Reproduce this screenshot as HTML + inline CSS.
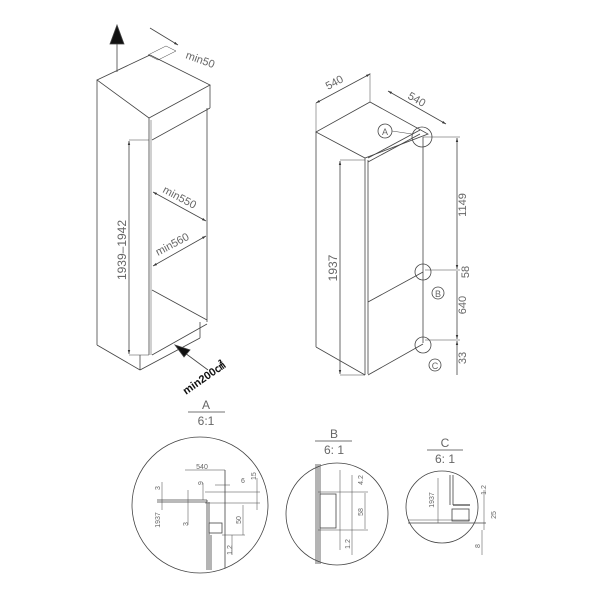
<!DOCTYPE html>
<html><head><meta charset="utf-8"><style>
html,body{margin:0;padding:0;background:#fff;}
svg{display:block}
text{font-family:"Liberation Sans",sans-serif;fill:#666;}
</style></head><body>
<svg width="600" height="600" viewBox="0 0 600 600" xmlns="http://www.w3.org/2000/svg">
<defs>
<marker id="as" viewBox="0 0 10 10" refX="10" refY="5" markerWidth="5" markerHeight="5" orient="auto-start-reverse"><path d="M0,2 L10,5 L0,8 z" fill="#333"/></marker>
</defs>
<g stroke="#444" stroke-width="0.8" fill="none">
<!-- left cabinet -->
<line x1="117" y1="72" x2="117" y2="40"/>
<path d="M110,44 L117,25 L124,44 z" fill="#111"/>
<polygon points="97,80 150,55 210,85 149,118"/>
<polygon points="148,55 166,46 176,51 158,60" stroke-width="0.5"/>
<line x1="210" y1="85" x2="210" y2="108"/>
<line x1="149" y1="118" x2="149" y2="355"/>
<line x1="151" y1="120" x2="151" y2="355" stroke-width="0.5"/>
<line x1="210" y1="108" x2="152" y2="140"/>
<line x1="207" y1="108" x2="207" y2="322"/>
<line x1="152" y1="290" x2="207" y2="320"/>
<line x1="152" y1="355" x2="207" y2="324"/>
<line x1="97" y1="80" x2="97" y2="345"/>
<line x1="97" y1="345" x2="140" y2="370"/>
<line x1="140" y1="355" x2="140" y2="370"/>
<line x1="140" y1="370" x2="200" y2="338"/>
<line x1="200" y1="322" x2="200" y2="338"/>
<line x1="129" y1="140" x2="149" y2="140" stroke-width="0.5"/>
<line x1="129" y1="355" x2="149" y2="355" stroke-width="0.5"/>
<line x1="129" y1="141" x2="129" y2="354" marker-start="url(#as)" marker-end="url(#as)"/>
<line x1="153" y1="192" x2="206" y2="221" marker-start="url(#as)" marker-end="url(#as)"/>
<line x1="153" y1="266" x2="206" y2="236" marker-start="url(#as)" marker-end="url(#as)"/>
<line x1="150" y1="28" x2="178" y2="45" marker-end="url(#as)"/>
<line x1="208" y1="370" x2="185" y2="353"/>
<path d="M175,345 L190,350 L184,357 z" fill="#111"/>
<!-- right fridge -->
<polygon points="316,132 370,102 428,134 365,158"/>
<line x1="316" y1="132" x2="316" y2="347"/>
<line x1="316" y1="347" x2="365" y2="375"/>
<line x1="365" y1="158" x2="365" y2="375"/>
<line x1="368" y1="160" x2="368" y2="374"/>
<line x1="423" y1="137" x2="423" y2="343"/>
<line x1="368" y1="375" x2="423" y2="344"/>
<line x1="368" y1="302" x2="423" y2="272"/>
<line x1="368" y1="158" x2="420" y2="130" stroke-width="0.8"/>
<line x1="368" y1="162" x2="420" y2="134" stroke-width="0.8"/>
<line x1="316" y1="103" x2="316" y2="132" stroke-width="0.5"/>
<line x1="370" y1="73" x2="370" y2="102" stroke-width="0.5"/>
<line x1="316" y1="103" x2="370" y2="74" marker-start="url(#as)" marker-end="url(#as)"/>
<line x1="388" y1="91" x2="446" y2="124" marker-start="url(#as)" marker-end="url(#as)"/>
<line x1="340" y1="160" x2="365" y2="160" stroke-width="0.5"/>
<line x1="340" y1="375" x2="365" y2="375" stroke-width="0.5"/>
<line x1="340" y1="161" x2="340" y2="374" marker-start="url(#as)" marker-end="url(#as)"/>
<line x1="423" y1="137" x2="460" y2="137" stroke-width="0.5"/>
<line x1="425" y1="270" x2="460" y2="270" stroke-width="0.5"/>
<line x1="425" y1="340" x2="460" y2="340" stroke-width="0.5"/>
<line x1="457" y1="138" x2="457" y2="269" marker-start="url(#as)" marker-end="url(#as)"/>
<line x1="457" y1="271" x2="457" y2="339" marker-end="url(#as)"/>
<line x1="457" y1="341" x2="457" y2="375" marker-start="url(#as)"/>
<circle cx="422" cy="137" r="10"/>
<circle cx="385" cy="131" r="7"/>
<line x1="392" y1="131" x2="412" y2="134" stroke-width="0.5"/>
<circle cx="423" cy="272" r="8"/>
<circle cx="438" cy="293" r="6"/>
<circle cx="423" cy="345" r="8"/>
<circle cx="435" cy="365" r="6"/>
<!-- section titles -->
<line x1="188" y1="412" x2="225" y2="412"/>
<line x1="315" y1="441" x2="352" y2="441"/>
<line x1="427" y1="450" x2="463" y2="450"/>
<!-- circle A -->
<circle cx="200" cy="505" r="68"/>
<line x1="157" y1="500" x2="207" y2="500"/>
<line x1="157" y1="502" x2="207" y2="502"/>
<line x1="207" y1="500" x2="207" y2="570"/>
<line x1="209" y1="502" x2="209" y2="570"/>
<line x1="211" y1="535" x2="211" y2="570"/>
<line x1="225" y1="470" x2="225" y2="568"/>
<line x1="185" y1="470" x2="225" y2="470" stroke-width="0.5"/>
<line x1="205" y1="492" x2="260" y2="492" stroke-width="0.5"/>
<line x1="205" y1="503" x2="260" y2="503" stroke-width="0.5"/>
<line x1="222" y1="535" x2="245" y2="535" stroke-width="0.5"/>
<rect x="209" y="523" width="13" height="10"/>
<line x1="162" y1="482" x2="162" y2="510" stroke-width="0.5"/>
<line x1="188" y1="490" x2="188" y2="525" stroke-width="0.5"/>
<line x1="203" y1="483" x2="203" y2="500" stroke-width="0.5"/>
<line x1="257" y1="478" x2="257" y2="510" stroke-width="0.5"/>
<line x1="243" y1="505" x2="243" y2="535" stroke-width="0.5"/>
<line x1="232" y1="535" x2="232" y2="555" stroke-width="0.5"/>
<line x1="215" y1="485" x2="230" y2="485" stroke-width="0.5"/>
<!-- circle B -->
<circle cx="337" cy="514" r="51"/>
<line x1="316" y1="464" x2="316" y2="564"/>
<line x1="318" y1="464" x2="318" y2="564"/>
<line x1="320" y1="464" x2="320" y2="564"/>
<line x1="340" y1="470" x2="340" y2="550" stroke-width="0.5"/>
<line x1="318" y1="492" x2="368" y2="492" stroke-width="0.5"/>
<line x1="318" y1="530" x2="368" y2="530" stroke-width="0.5"/>
<rect x="320" y="494" width="16" height="34"/>
<line x1="352" y1="475" x2="352" y2="555" stroke-width="0.5"/>
<line x1="365" y1="493" x2="365" y2="529" stroke-width="0.5"/>
<!-- circle C -->
<circle cx="442" cy="507" r="36"/>
<line x1="408" y1="523" x2="486" y2="523"/>
<line x1="408" y1="520" x2="470" y2="520" stroke-width="0.5"/>
<line x1="450" y1="475" x2="450" y2="505"/>
<line x1="453" y1="475" x2="453" y2="505"/>
<rect x="452" y="509" width="17" height="12"/>
<line x1="453" y1="505" x2="470" y2="505" stroke-width="1.2"/>
<line x1="438" y1="478" x2="438" y2="523" stroke-width="0.5"/>
<line x1="484" y1="490" x2="484" y2="530" stroke-width="0.5"/>
<line x1="482" y1="530" x2="482" y2="555" stroke-width="0.5"/>
</g>
<!-- labels -->
<text x="185" y="58" font-size="11" transform="rotate(20 185 58)">min50</text>
<text x="126" y="250" font-size="12" text-anchor="middle" transform="rotate(-90 126 250)">1939–1942</text>
<text x="162" y="192" font-size="11" transform="rotate(28 162 192)">min550</text>
<text x="158" y="256" font-size="11" transform="rotate(-28 158 256)">min560</text>
<text x="186" y="395" font-size="11" font-weight="bold" style="fill:#111" transform="rotate(-35 186 395)">min200㎠</text>
<text x="328" y="90" font-size="11" transform="rotate(-28 328 90)">540</text>
<text x="407" y="98" font-size="11" transform="rotate(30 407 98)">540</text>
<text x="337" y="268" font-size="12" text-anchor="middle" transform="rotate(-90 337 268)">1937</text>
<text x="466" y="205" font-size="11" text-anchor="middle" transform="rotate(-90 466 205)">1149</text>
<text x="469" y="272" font-size="11" text-anchor="middle" transform="rotate(-90 469 272)">58</text>
<text x="466" y="305" font-size="11" text-anchor="middle" transform="rotate(-90 466 305)">640</text>
<text x="466" y="358" font-size="11" text-anchor="middle" transform="rotate(-90 466 358)">33</text>
<text x="385" y="135" font-size="9" text-anchor="middle">A</text>
<text x="438" y="297" font-size="9" text-anchor="middle">B</text>
<text x="435" y="369" font-size="9" text-anchor="middle">C</text>
<text x="206" y="409" font-size="12" text-anchor="middle">A</text>
<text x="206" y="425" font-size="12" text-anchor="middle">6:1</text>
<text x="334" y="438" font-size="12" text-anchor="middle">B</text>
<text x="334" y="454" font-size="12" text-anchor="middle">6: 1</text>
<text x="445" y="447" font-size="12" text-anchor="middle">C</text>
<text x="445" y="463" font-size="12" text-anchor="middle">6: 1</text>
<g>
<text x="202" y="469" text-anchor="middle" font-size="7">540</text>
<text x="160" y="490" transform="rotate(-90 160 490)" font-size="7">3</text>
<text x="160" y="520" text-anchor="middle" transform="rotate(-90 160 520)" font-size="7">1937</text>
<text x="188" y="526" transform="rotate(-90 188 526)" font-size="7">3</text>
<text x="203" y="485" transform="rotate(-90 203 485)" font-size="7">9</text>
<text x="241" y="483" font-size="7">6</text>
<text x="256" y="480" transform="rotate(-90 256 480)" font-size="7">15</text>
<text x="241" y="520" text-anchor="middle" transform="rotate(-90 241 520)" font-size="7">50</text>
<text x="232" y="550" text-anchor="middle" transform="rotate(-90 232 550)" font-size="7">1.2</text>
<text x="363" y="480" text-anchor="middle" transform="rotate(-90 363 480)" font-size="7">4.2</text>
<text x="363" y="512" text-anchor="middle" transform="rotate(-90 363 512)" font-size="7">58</text>
<text x="350" y="544" text-anchor="middle" transform="rotate(-90 350 544)" font-size="7">1.2</text>
<text x="434" y="500" text-anchor="middle" transform="rotate(-90 434 500)" font-size="7">1937</text>
<text x="486" y="490" text-anchor="middle" transform="rotate(-90 486 490)" font-size="7">1.2</text>
<text x="496" y="515" text-anchor="middle" transform="rotate(-90 496 515)" font-size="7">25</text>
<text x="480" y="546" text-anchor="middle" transform="rotate(-90 480 546)" font-size="7">8</text>
</g>
</svg>
</body></html>
